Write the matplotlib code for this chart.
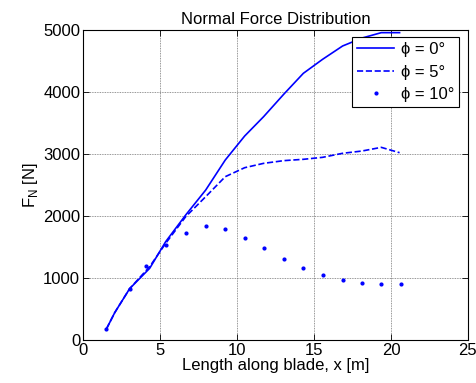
import matplotlib
matplotlib.use("Agg")
import matplotlib.pyplot as plt

plt.rcParams['font.family'] = ['Liberation Sans', 'DejaVu Sans']

x0 = [1.52, 2.06, 3.03, 4.33, 5.37, 6.67, 7.97, 9.24, 10.5, 11.73, 13.05, 14.31, 15.56, 16.86, 18.12, 19.37, 20.56]
f0 = [177, 441, 828, 1156, 1586, 2016, 2419, 2903, 3290, 3602, 3967, 4301, 4527, 4742, 4870, 4957, 4957]

x5 = [1.52, 2.06, 3.03, 4.33, 5.37, 6.67, 7.97, 9.24, 10.5, 11.73, 13.05, 14.31, 15.56, 16.86, 18.12, 19.37, 20.56]
f5 = [177, 441, 828, 1183, 1559, 1989, 2312, 2634, 2779, 2849, 2893, 2914, 2946, 3011, 3048, 3107, 3021]

x10 = [1.52, 3.03, 4.1, 5.37, 6.67, 7.97, 9.24, 10.5, 11.73, 13.05, 14.31, 15.56, 16.86, 18.12, 19.37, 20.63]
f10 = [177, 828, 1190, 1532, 1726, 1844, 1796, 1650, 1484, 1312, 1161, 1043, 973, 925, 898, 909]

labels = ['\u03d5 = 0\u00b0', '\u03d5 = 5\u00b0', '\u03d5 = 10\u00b0']

fig = plt.figure(figsize=(4.77, 3.83), dpi=100)
ax = fig.add_axes([0.174, 0.1123, 0.807, 0.8094])

blue = (0, 0, 1)
ax.plot(x0, f0, '-', color=blue, lw=1.2, label=labels[0])
ax.plot(x5, f5, '--', color=blue, lw=1.2, label=labels[1])
ax.plot(x10, f10, '.', color=blue, ms=4, label=labels[2])

ax.set_xlim(0, 25)
ax.set_ylim(0, 5000)
ax.set_xticks([0, 5, 10, 15, 20, 25])
ax.set_yticks([0, 1000, 2000, 3000, 4000, 5000])
ax.tick_params(direction='in', top=True, right=True, length=4, labelsize=12, width=0.6, pad=2)
ax.grid(True, color='0.45', linestyle=(0, (1, 1)), lw=0.6)
for s in ax.spines.values():
    s.set_linewidth(0.8)

ax.set_title('Normal Force Distribution', fontsize=12, pad=4)
ax.set_xlabel('Length along blade, x [m]', fontsize=12, labelpad=0)
ax.set_ylabel('F$_\\mathregular{N}$ [N]', fontsize=12, labelpad=2)

leg = ax.legend(loc='upper right', bbox_to_anchor=(0.977, 0.977), fontsize=12,
                fancybox=False, framealpha=1, edgecolor='black', borderaxespad=0,
                handlelength=2.2, borderpad=0.3, labelspacing=0.45, handletextpad=0.4)
leg.get_frame().set_linewidth(0.8)

fig.savefig('out.png', dpi=100)
